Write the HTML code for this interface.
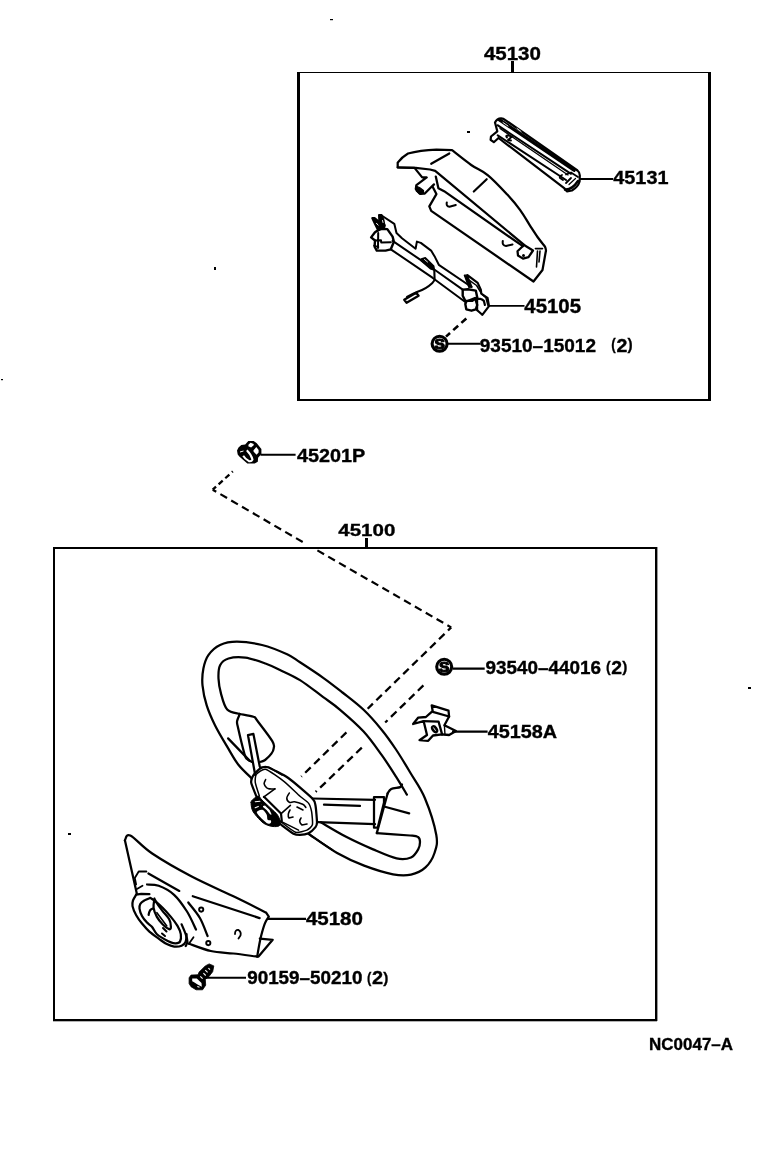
<!DOCTYPE html>
<html><head><meta charset="utf-8">
<style>
html,body{margin:0;padding:0;background:#fff;}
svg{display:block;will-change:transform;}
text{font-family:"Liberation Sans",sans-serif;font-weight:bold;fill:#000;stroke:#000;stroke-width:0.35px;}
</style></head>
<body>
<svg width="776" height="1152" viewBox="0 0 776 1152">
<rect width="776" height="1152" fill="#fff"/>
<rect x="297" y="72" width="414" height="1" fill="#000"/>
<rect x="297" y="72" width="3" height="329" fill="#000"/>
<rect x="708" y="72" width="3" height="329" fill="#000"/>
<rect x="297" y="399" width="414" height="2" fill="#000"/>
<rect x="53" y="547" width="604" height="2" fill="#000"/>
<rect x="53" y="547" width="2" height="474" fill="#000"/>
<rect x="655" y="547" width="2.4" height="474" fill="#000"/>
<rect x="53" y="1019" width="604" height="2.3" fill="#000"/>
<rect x="511" y="61" width="3" height="11" fill="#000"/>
<rect x="365" y="538" width="3" height="9" fill="#000"/>
<g fill="none" stroke="#000" stroke-width="1.8" stroke-linejoin="round" stroke-linecap="round">
<path d="M495 122.5Q497 118.3 501 118.3L503.5 118.8L577.5 170.5Q580 172.5 579.8 176L579.6 181.5Q578 187 572 190.5L567 191.3Q565 190 564.5 188.3L498.5 138L493.8 142.2L490.6 139.8L491 136.5L497.3 131.3L495 122.5Z" stroke-width="2.2"/>
<path d="M499.5 119.8L574 170.2" stroke-width="3.4"/>
<path d="M503 122.5L508 126M517 128.5L521 131.5" stroke="#fff" stroke-width="0.9" fill="none"/>
<path d="M497.5 125.2L571 173.8" stroke-width="2"/>
<path d="M500 128.5L568 175" stroke-width="1.3"/>
<path d="M497.7 135.3L566 180" stroke-width="2"/>
<path d="M566 174.5L571 172.5L578 177M566 183L571 178" stroke-width="1.8"/>
<path d="M507 137.5Q505 135.5 508 135.5L512 136.5L508 140L511 140.5M562 175Q559 176 560 178L563 180" stroke-width="1.8"/>
<path d="M569 184.5L575.5 178.5" stroke-width="1.2"/>
<path d="M565 189.5Q572 190 578 181" stroke-width="2.5"/>
<path d="M397.7 167.5L397.7 162.6Q402 157 408 153.5Q420 150.5 436.4 149.7L452 150.2 C455.2 152.7 465.2 160.8 471.2 165 C477.2 169.2 482 170.4 488 175.3 C494 180.2 501.9 188.8 507.3 194.6 C512.7 200.4 516.4 204.9 520.2 210.1 C524 215.3 527.1 221.1 530 225.6 C532.9 230.1 535 233.5 537.5 237 C540 240.5 543.8 245.1 545 246.7Q546.5 250 545.7 252L542.5 270L533.5 281.5L431.2 210.9L429.3 206.4L436.4 194.1L432.5 186.4L434 184.3L424.8 193.5L419.6 193.5L415.8 189L416.4 185.1L426.7 177.4L422.2 177.4L414.5 167.9Z" stroke-width="2.25"/>
<path d="M397.7 167.3L415.8 167.8L430 169.5L435.2 170.8L524.1 244.9" stroke-width="2.25"/>
<path d="M435.8 176.6L438.4 188.2L444.1 191.2L522.8 246.2" stroke-width="2.25"/>
<path d="M431.2 163.8L449.3 153.5M473.8 191.5L486.7 179.2" stroke-width="2.2"/>
<path d="M446.8 202.4Q446 206.5 449.5 206.8L455.8 205M502.8 241Q502 245.5 506 246L512.5 244.5" stroke-width="2"/>
<path d="M517.5 251.2L524 245L533 250.5L528.5 257.2L523 258.6L518 255.5Z" stroke-width="2.25"/>
<path d="M535.4 248.6L542.5 248.6M537.5 251L536.5 267M540 251L539 262" stroke-width="1.6"/>
<path d="M415.8 186L419.5 187.5L423.5 190.5L423.6 193.5L420.5 194.5L416.3 191Z" fill="#000" stroke="#000" stroke-width="1.2"/>
<circle cx="420.5" cy="190.6" r="0.8" fill="#fff"/>
<circle cx="523.5" cy="255.5" r="1.5" fill="#000" stroke="none"/>
<path d="M381.6 215.5L394.3 223.8L396.5 233.1L402 238.3L415.6 248.7L416.9 241.6L420.8 242.9L431.1 250.6L435 257.1L438.8 264.8L471.5 287" stroke-width="2"/>
<path d="M467.4 275.2L477.7 282.9L480.8 289.6L481.3 293.7L487.5 297.8L489 306.1L482.3 314.8L477.2 310.2" stroke-width="2.2"/>
<path d="M469.4 280.3L476.6 285.5L481.8 294.2L485.9 297.8L488 305.6" stroke-width="1.5"/>
<path d="M464.3 275.2L467.4 275.2L472 287L468.9 287.5Z" fill="#000" stroke="#000" stroke-width="1.2"/>
<path d="M392.6 240.9L422 260.9L435 270L462.7 289.6" stroke-width="2"/>
<path d="M390.8 249.3L432.4 277.7L465.3 302" stroke-width="2"/>
<path d="M372.2 218.1L374.6 218.1L379.4 222.1L384.7 225.2L384.2 227.5L377.5 229L375 224Z" fill="#000" stroke="#000" stroke-width="2" stroke-linejoin="round"/>
<path d="M376.5 223.3L378.5 225.5" stroke="#fff" stroke-width="1"/>
<path d="M379 215.1L381.6 215.1L383.5 220L384.5 226L379.5 226.5Z" fill="#000" stroke="#000" stroke-width="2" stroke-linejoin="round"/>
<path d="M382.5 220.5L383 222.5" stroke="#fff" stroke-width="0.9"/>
<path d="M371.1 237.4L375 232.2L380.3 228.7L387.3 229.1L392.6 236.6L393.9 241.8L390.8 249.3L385.5 250.6L376.8 250.6L374.6 246.6L375 240.5Z" stroke-width="2.4"/>
<path d="M375 240.5L381 240.3L381.2 242.5L390.8 242.3M378.2 233L378 248M381 229L377 231" stroke-width="2"/>
<path d="M374 245.5L378.5 247" stroke-width="1.6"/>
<path d="M421.4 259L425.3 257.7L433.7 266.1L434.3 270L430.4 268.7L421.4 260.9Z" fill="#000" stroke="#000" stroke-width="1.6"/>
<path d="M424.5 259.5L427.5 262" stroke="#fff" stroke-width="0.9"/>
<path d="M434.3 270L434.6 280L432.4 283Q426 289 418.2 291.5Q411 294.5 407 297" stroke-width="2.1"/>
<path d="M404.2 299.8L416.2 292.8L418.6 295.8L406.6 302.8Z" stroke-width="2.3"/>
<path d="M462.7 289.6L468 289.3L475.8 290.6L477.2 297.3L472 300.9L465.3 300.9L462.7 295.8Z" stroke-width="2.4"/>
<path d="M466.3 301.5L475 298L477.2 305L475.8 309.3L471.5 310.7L466.3 309.3L465.3 304Z" stroke-width="2.4"/>
<path d="M477.2 299L480 298.8L482 299.5L483.9 300.9L484.9 305" stroke-width="2.2"/>
<path d="M477.2 297.3L477.2 310.2" stroke-width="2"/>
</g>
<g fill="none" stroke="#000">
<path d="M448 343.8H480.4" stroke-width="2"/>
<path d="M579 179H613" stroke-width="2"/>
<path d="M488.5 305.9H524.5" stroke-width="1.9"/>
<path d="M466.3 318.5L446 336.6" stroke-width="2.6" stroke-dasharray="6.6 4.3" stroke-linecap="butt"/>
<circle cx="439.6" cy="343.8" r="7.5" stroke-width="3.1"/>
</g>
<text x="439.6" y="349.2" font-size="15.5" text-anchor="middle" style="stroke-width:1.2px">S</text>
<g fill="none" stroke="#000" stroke-width="1.8" stroke-linejoin="round" stroke-linecap="round">
<path d="M212.7 489.7L232.8 471.4" stroke-width="2.3" stroke-dasharray="5.5 3.5" stroke-dashoffset="1" stroke-linecap="butt"/>
<path d="M212.7 489.7L303 542.2" stroke-width="2.2" stroke-dasharray="7.7 4.8" stroke-linecap="butt" stroke-dashoffset="3.6"/>
<path d="M317.4 550.4L451.2 627.4" stroke-width="2.2" stroke-dasharray="7.7 4.8" stroke-linecap="butt"/>
<path d="M451.2 627.4L367.7 708.7" stroke-width="2.3" stroke-dasharray="7.7 4.8" stroke-linecap="butt" stroke-dashoffset="3.2"/>
<path d="M346.4 732.4L301.3 776.6" stroke-width="2.3" stroke-dasharray="7.7 4.8" stroke-linecap="butt"/>
<path d="M423.4 685.4L385.2 722.5" stroke-width="2.3" stroke-dasharray="7.7 4.8" stroke-linecap="butt"/>
<path d="M361.8 747.7L315.7 791.9" stroke-width="2.3" stroke-dasharray="7.7 4.8" stroke-linecap="butt"/>
<path d="M251.8 778.4 C249.6 776.2 242.5 769.9 238.6 765 C234.7 760.1 232.4 755.5 228.5 748.9 C224.6 742.3 218.7 732.8 215.1 725.5 C211.5 718.2 208.8 712.1 206.7 705.4 C204.6 698.7 203.1 691.4 202.5 685.3 C201.9 679.1 202.4 673.5 203.4 668.5 C204.4 663.5 205.6 659 208.4 655.1 C211.2 651.2 215.3 647.2 220.1 645 C224.8 642.8 229.9 641.7 236.9 641.7 C243.9 641.7 253.6 642.9 262 645 C270.4 647.1 280.8 651.4 287.1 654.3 C293.4 657.2 294 658.4 300 662.3 C306 666.2 316.1 672.8 323.2 677.8 C330.3 682.8 335.8 687.2 342.5 692.5 C349.2 697.8 357.1 703.6 363.6 709.8 C370.1 716 376.2 723.1 381.6 729.7 C387 736.3 391.2 742.3 396 749.5 C400.8 756.7 405.7 764.9 410.5 773 C415.3 781.1 420.6 787.9 424.9 798.2 C429.2 808.5 434.7 825.9 436.3 835 C437.9 844.1 436.3 847.6 434.5 853 C432.7 858.4 429.4 863.8 425.5 867.4 C421.6 871 416.4 873.5 411 874.6 C405.6 875.8 400.8 875.8 393 874.3 C385.2 872.8 373.4 869.1 364.1 865.6 C354.8 862.1 346.4 858.3 337.1 853 C327.8 847.7 313.3 837 308.5 833.8" stroke-width="2.25"/>
<path d="M239.8 714 C237.7 713.2 230.3 712.9 227.2 709.5 C224.1 706.1 222.4 698.8 221 693.6 C219.6 688.5 218.7 683.3 218.5 678.6 C218.3 673.9 218.4 668.6 220.1 665.2 C221.8 661.9 224.3 659.8 228.5 658.5 C232.7 657.2 239.2 656.8 245.3 657.6 C251.5 658.4 259.6 661.4 265.4 663.5 C271.2 665.6 274.2 667.2 280 670 C285.8 672.8 292.8 675.6 300 680.1 C307.2 684.6 316.5 692.2 323.2 697.1 C329.9 702 333.4 704.1 340.1 709.8 C346.8 715.5 356.7 724 363.6 731.5 C370.5 739 376.2 747.4 381.6 754.9 C387 762.4 391.8 770 396 776.6 C400.2 783.2 405.1 791.6 406.9 794.6" stroke-width="2.25"/>
<path d="M402 784.4 C401.7 784.9 402 786.4 400.2 787.1 C398.4 787.9 393.3 787.8 391.2 788.9 C389.1 790 388.2 792.7 387.6 793.5" stroke-width="2.25"/>
<path d="M387.6 793.5L376.8 833.1" stroke-width="2.25"/>
<path d="M376.8 833.1 C382.3 833.5 403.1 834.9 410 835.5 C416.9 836.1 416.3 835.9 418 837 C419.7 838.1 420 839.9 420 842 C420 844.1 419.7 846.8 418.2 849.4 C416.7 852 414.6 856 411 857.5 C407.4 859 402.9 859.8 396.6 858.4 C390.3 857 381.5 853 373.1 849.4 C364.7 845.8 354.8 841.3 346.1 836.8 C337.4 832.3 325 824.7 320.8 822.3" stroke-width="2.25"/>
<path d="M312.4 798.5L375 799.8M317.8 822.1L375 824.1" stroke-width="2.25"/>
<path d="M324 804.7L360 805.9" stroke-width="2.25"/>
<path d="M374 827.7V797.1H384V802.5L377.7 827.7Z" stroke-width="2.25"/>
<path d="M385.8 807L409.2 813.3" stroke-width="2.25"/>
<path d="M239.8 714 C242.1 714.5 250.5 715.7 253.4 716.7 C256.3 717.8 253.8 716.2 257 720.3 C260.1 724.4 269.5 736.4 272.3 741.1 C275.1 745.8 273.9 746.2 273.7 748.3 C273.5 750.4 272.8 751.8 271.4 753.7 C270 755.7 266.9 758.6 265.1 760 C263.3 761.4 261.4 761.5 260.6 761.8" stroke-width="2.25"/>
<path d="M239.8 714 C239.4 715.2 237.4 718.9 237.1 721.2 C236.8 723.5 236.8 722.2 238 727.6 C239.2 733 242.9 748.5 244.4 753.7 C245.9 759 245.9 757.8 247.1 759.1 C248.3 760.5 250.8 761.3 251.6 761.8" stroke-width="2.25"/>
<path d="M248 735.2L255.2 775M248 735.2L253.4 733.9L259.7 766.3" stroke-width="2.25"/>
<path d="M228.1 738.4L249.8 760.9" stroke-width="2.25"/>
<path d="M280 823.9 C281.4 824.9 291.5 832.6 293.5 833.7 C295.5 834.8 298.5 834.9 300 834.9 C301.5 834.9 306.9 834.1 308.5 833.3 C310.1 832.5 314.6 828.2 315.5 827.1 C316.4 826 317 824.7 317 822.5 C317 820.3 316 807.9 315.5 805.5 C315 803.1 315.1 801.2 312.4 798.5 C309.7 795.8 292.8 781.1 288.3 778 C283.8 774.9 270.5 768.2 267.7 767.2 C264.9 766.2 261.9 767.4 260.5 768.2 C259.1 769 254.1 774 253.2 775.5 C252.3 777 250.9 780.6 251.2 782.7 C251.5 784.8 255.8 794.8 256.3 796.1" stroke-width="2.25"/>
<path d="M281.1 821.9 C282.5 822.9 292.9 831.4 295.5 832.2 C298.1 833 305.2 830.8 306.9 830.1 C308.6 829.4 311.9 826.6 312.4 824.8 C312.9 823 312 813.9 311.6 811.7 C311.2 809.5 309.7 804.6 308.5 803.1 C307.3 801.6 302.4 798.4 300 796.2 C297.6 794.1 287.6 784.3 284.2 781.6 C280.8 778.9 268.4 770 265.6 769.3 C262.8 768.6 257.3 773.1 256.3 774.4 C255.3 775.7 255 780.5 255.3 782.7 C255.6 784.9 259 794.8 259.4 796.1" stroke-width="1.5"/>
<path d="M264 796.8L281 813.5L281.8 821" stroke-width="2.2"/>
<path d="M251.1 802.3 C250.9 804 251.4 807.5 252.1 809.5 C252.8 811.5 253.6 812.5 255.2 814.6 C256.8 816.7 259.9 820.2 261.9 821.9 C263.9 823.6 265.2 824.2 267.1 825 C269 825.8 271 826.3 273 826.5 C275 826.7 277.6 826.7 278.9 826 C280.1 825.3 280.7 824.3 280.5 822.5 C280.3 820.7 279.1 817.3 277.5 815 C275.9 812.7 273.6 811 271 808.5 C268.4 806 264.1 802.1 262 800 C259.9 797.9 259.8 796.2 258.3 796.1 C256.8 796 254.4 798.2 253.2 799.2 C252 800.2 251.3 800.6 251.1 802.3Z" fill="#000" stroke="#000" stroke-width="1"/>
<path d="M258.8 810.5 C259.8 809.9 261.7 809.3 263 810 C264.3 810.7 265.8 813 266.6 814.6 C267.4 816.2 266.9 818.8 267.6 819.8 C268.3 820.8 270.2 819.8 270.7 820.3 C271.2 820.8 271.4 822.5 270.7 822.9 C270 823.3 268.8 824.4 266.6 822.9 C264.4 821.4 258.6 815.7 257.3 813.6 C256 811.5 257.9 811.1 258.8 810.5Z" fill="#fff" stroke="none"/>
<path d="M263 805.9 L265 805.4 L269.6 810 L271.7 814.6 L270.2 814.6 L266.6 810 L263 806.9Z" fill="#fff" stroke="none"/>
<path d="M255.2 801.8L259.9 801.2M255.2 807.7L258.3 806.4" stroke="#fff" stroke-width="1.1" fill="none"/>
<circle cx="261.4" cy="804.3" r="0.7" fill="#fff"/>
<path d="M265.6 779.6 C265.4 780.3 263.9 782.3 264.1 783.7 C264.3 785.1 265.7 786.9 266.6 787.8 C267.5 788.7 268.3 788.7 269.7 788.9 C271.1 789.1 274 788.9 274.9 788.9" stroke-width="1.6"/>
<path d="M274.9 788.9L263.6 797.1" stroke-width="1.6"/>
<path d="M289.3 793 C288.9 793.9 286.8 796.6 286.8 798.1 C286.8 799.6 288 801.7 289.3 802.3 C290.6 802.9 292.3 801.5 294.5 801.8 C296.7 802.1 300.8 803.4 302.7 804.3 C304.6 805.2 305.3 806.9 305.8 807.4" stroke-width="1.6"/>
<path d="M290.4 805.4L281.1 813.6" stroke-width="1.6"/>
<path d="M290 810Q287 815 289 818L293 817M301 818Q298 822 302 825L307 824M297 807L303 810" stroke-width="1.6"/>
<path d="M280 820.8L298.6 830.1" stroke-width="1.5"/>
<path d="M308.5 834.1L332.5 850" stroke-width="1.8"/>
<path d="M259.7 767.2L268.7 767.2L282.2 775" stroke-width="1.5"/>
<path d="M431.7 705.4L448.5 710.7L449.1 716.5L432.8 711.8Z" stroke-width="2.3"/>
<path d="M431.7 711.8L425.9 717L418.3 717.6L413.1 724L423.6 721.1L427 735L419.5 740.2L428.2 740.8L433 735.5L442.1 734.4L449.1 735L456 731L444.4 725.2L449.1 716.5" stroke-width="2.3"/>
<path d="M423.6 721.1L438.6 721.7L442.1 734.4" stroke-width="2.3"/>
<ellipse cx="434.6" cy="729.2" rx="3.6" ry="2.2" transform="rotate(55 434.6 729.2)" fill="#000"/>
<path d="M433.6 727.8L435.4 730.5" stroke="#fff" stroke-width="0.9"/>
<path d="M444.4 725.2L445 735" stroke-width="1.4"/>
<path d="M124.9 840.3 C125.8 839.5 125.8 833.3 130.3 835.5 C134.9 837.7 142 846.7 152.2 853.5 C162.4 860.3 177.8 869.2 191.7 876.5 C205.6 883.8 223.1 891.3 235.5 897.3 C247.9 903.3 261 910 266.1 912.6L268.8 916.6 C268.2 917.7 266.3 919.9 265 923.1 C263.7 926.3 262.2 931.7 261.1 936 C260 940.3 259.1 945.5 258.5 948.9 C257.9 952.3 257.4 955.3 257.2 956.6" stroke-width="2.25"/>
<path d="M124.9 840.3L136.8 893.5" stroke-width="2.25"/>
<path d="M257.2 956.6 C253.2 956.1 241 954.4 233.3 953.5 C225.6 952.6 218.2 952.6 210.8 951 C203.4 949.4 192.6 944.9 188.9 943.7" stroke-width="2.25"/>
<path d="M259.8 938.6L272.7 939.8L258.5 956.6" stroke-width="2.25"/>
<path d="M148.4 873.5L179.3 890.9" stroke-width="2.25"/>
<path d="M147.1 884.5 C149 884.7 154.2 884.1 158.7 885.8 C163.2 887.5 169.4 890.5 174.1 894.8 C178.8 899.1 183.3 905.7 187 911.5 C190.7 917.3 194.5 926.6 196 929.6" stroke-width="2.25"/>
<path d="M192.8 896.2L259.6 918.1" stroke-width="2.25"/>
<path d="M188.3 902.5 C190.2 905.1 196.7 912.4 199.9 918 C203.1 923.6 206.3 933 207.6 936" stroke-width="2.25"/>
<circle cx="201.2" cy="909.6" r="2.1" fill="none" stroke="#000" stroke-width="1.9"/><circle cx="208.3" cy="943.1" r="2.1" fill="none" stroke="#000" stroke-width="1.9"/>
<path d="M136.2 894.6 C135.7 895.6 133.6 898.5 133 900.4 C132.4 902.3 132 903.6 132.5 906.1 C133 908.6 134.6 912.3 136.2 915.2 C137.8 918.1 139.8 920.8 142 923.5 C144.2 926.2 146.5 929.1 149.4 931.7 C152.3 934.3 156.4 937 159.3 939.1 C162.2 941.2 164.3 942.9 166.8 944.1 C169.3 945.4 171.7 946.3 174.2 946.6 C176.7 946.9 179.7 946.5 181.6 945.7 C183.5 944.9 184.9 943.5 185.7 941.6 C186.5 939.7 186.4 935.4 186.6 934.2" stroke-width="2.25"/>
<path d="M136.2 894.6L141.2 893.8L149.4 894.2" stroke-width="2.25"/>
<path d="M150.3 897.9 C149.3 898.3 146.2 899.4 144.5 900.4 C142.8 901.4 141.2 902.3 140.4 903.7 C139.6 905.1 139.2 906.6 139.5 908.6 C139.8 910.6 140.8 913.7 142 916 C143.2 918.3 145.3 920.8 147 922.6 C148.7 924.4 150.2 924.9 151.9 926.8 C153.6 928.7 154.8 932.2 156.9 934.2 C159 936.2 162 937.7 164.3 939.1 C166.6 940.5 169 941.7 170.9 942.4 C172.8 943.1 174.3 943.4 175.8 943.3 C177.3 943.2 179.2 943.1 180 941.6 C180.8 940.1 181.2 936.8 180.8 934.2 C180.4 931.6 179.2 928.8 177.5 925.9 C175.8 923 173.4 919.9 170.9 916.9 C168.4 913.9 165.2 910.4 162.6 907.8 C160 905.2 157.2 902.9 155.2 901.2 C153.1 899.6 151.1 898.5 150.3 897.9" stroke-width="2.25"/>
<path d="M154.4 898.7 C154.3 900.2 153.2 904.8 153.6 907.8 C154 910.8 155.4 914.1 156.9 916.9 C158.4 919.6 160.6 922.2 162.6 924.3 C164.6 926.3 167.8 928.8 169.2 929.2 C170.6 929.6 170.9 928.4 170.9 926.8 C170.9 925.1 170.6 921.9 169.2 919.3 C167.8 916.7 164.5 913.6 162.6 911.1 C160.7 908.6 159.1 906.6 157.7 904.5 C156.3 902.4 154.9 899.7 154.4 898.7" stroke-width="2.25"/>
<path d="M156.9 912.7L166.8 925.9" stroke-width="1.6"/>
<path d="M152.7 908.6Q149.5 909 148.6 915" stroke-width="2.2"/>
<path d="M181.6 924.3 C182.3 925.9 184.7 931.3 185.7 934.2 C186.7 937.1 187.4 939.6 187.4 941.6 C187.4 943.6 186 945.3 185.7 946" stroke-width="2.25"/>
<path d="M146.4 871.5L138.7 871.5L134.8 878L136.1 884.4M136.1 889.6L142.5 885.7M188.9 943.7L193.5 937.3" stroke-width="1.8"/>
<path d="M235 934Q235 929.5 238.5 930Q241.5 932 240.5 935.5L238.5 938.5" stroke-width="1.8"/>
<path d="M163 928L166.5 931.5M162 933.5L165 936" stroke-width="2"/>
</g>
<g fill="none" stroke="#000">
<path d="M260.5 454.8H295.6" stroke-width="2.1"/>
<path d="M452.9 668.7H484.7" stroke-width="2.3"/>
<path d="M452 731.6H487.6" stroke-width="2.2"/>
<path d="M267 918.9H306" stroke-width="2.1"/>
<path d="M205.8 977.8H246" stroke-width="2"/>
<circle cx="444.2" cy="666.8" r="7.5" stroke-width="3.1"/>
</g>
<text x="444.2" y="672.2" font-size="15.5" text-anchor="middle" style="stroke-width:1.2px">S</text>
<path d="M248.3 441.1L253.7 441.1L256.8 443.2L261.4 448.9L261.4 454.1L258.1 457.7L257.8 461.8L254.7 463.6L247.3 463.6L239.3 456.6L237.7 454.6L237 450.5L238.5 447.4L241.3 445.1L245.2 444.5Z" fill="#000"/>
<path d="M248.6 444.5L250.6 442.7L253.7 444L253.7 445.3L251.1 447.6L248.3 446.3Z M253.5 450.2L256.3 447.1L258.6 449.9L258.6 452.5L256.5 454.8L253.5 451.5Z" fill="#fff"/>
<path d="M246.8 450.3Q251.5 455 252.5 459.5Q251.5 461.8 249 461.2Q245 459 243.2 455.8" fill="none" stroke="#fff" stroke-width="2"/>
<path d="M240 452L243.5 451" fill="none" stroke="#fff" stroke-width="1"/>
<path d="M209.2 963.9L213.8 965.9L212.7 971.7L208.8 976.7L205.3 979.4L205.7 985.2L202.6 989.8L196.1 989.8L191 986.7L189.1 983.6L189.1 977.8L191 975.1L198 974.8L199.1 972.1L205.3 965.9Z" fill="#000" stroke="#000" stroke-width="0.8" stroke-linejoin="round"/>
<path d="M192.2 978.6L196.8 978.6L201.5 982.9L201.8 986.7L197.6 984.4L193.7 982.1L192.2 981.3Z" fill="#fff"/>
<path d="M200.3 976.3L202.6 978.6M203.4 973.2L205.7 975.5M205.3 970.1L207.6 972.4M208.4 968.2L210 969.7M197.3 986.5L199.5 987.2" stroke="#fff" stroke-width="1.1" fill="none"/>
<text transform="matrix(0.9834 0 0 1.0038 483.9 59.65)" x="0" y="0" font-size="18.5" textLength="58" lengthAdjust="spacingAndGlyphs">45130</text>
<text transform="matrix(0.9848 0 0 0.9887 613.3 184.45)" x="0" y="0" font-size="18.5" textLength="56" lengthAdjust="spacingAndGlyphs">45131</text>
<text transform="matrix(0.9791 0 0 1.0566 524.3 312.94)" x="0" y="0" font-size="18.5" textLength="58" lengthAdjust="spacingAndGlyphs">45105</text>
<text transform="matrix(1.0017 0 0 0.9846 479.8 351.75)" x="0" y="0" font-size="18" textLength="116" lengthAdjust="spacingAndGlyphs">93510–15012</text>
<text transform="matrix(0.7455 0 0 0.8696 611.34 350.12)" x="0" y="0" font-size="18" textLength="6" lengthAdjust="spacingAndGlyphs">(</text>
<text transform="matrix(1.0889 0 0 0.9692 616.46 351.76)" x="0" y="0" font-size="18" textLength="10" lengthAdjust="spacingAndGlyphs">2</text>
<text transform="matrix(0.8545 0 0 0.8696 627.51 350.12)" x="0" y="0" font-size="18" textLength="6" lengthAdjust="spacingAndGlyphs">)</text>
<text transform="matrix(0.9883 0 0 1.0308 297.0 461.84)" x="0" y="0" font-size="18" textLength="69" lengthAdjust="spacingAndGlyphs">45201P</text>
<text transform="matrix(0.9834 0 0 0.9462 338.3 536.36)" x="0" y="0" font-size="18" textLength="58" lengthAdjust="spacingAndGlyphs">45100</text>
<text transform="matrix(0.9948 0 0 0.9923 485.5 673.75)" x="0" y="0" font-size="18" textLength="116" lengthAdjust="spacingAndGlyphs">93540–44016</text>
<text transform="matrix(0.7818 0 0 0.8232 606.01 672.2099999999999)" x="0" y="0" font-size="18" textLength="6" lengthAdjust="spacingAndGlyphs">(</text>
<text transform="matrix(1.0778 0 0 0.9923 611.36 673.75)" x="0" y="0" font-size="18" textLength="10" lengthAdjust="spacingAndGlyphs">2</text>
<text transform="matrix(0.8545 0 0 0.8232 622.21 672.2099999999999)" x="0" y="0" font-size="18" textLength="6" lengthAdjust="spacingAndGlyphs">)</text>
<text transform="matrix(0.9907 0 0 1.0308 487.7 737.84)" x="0" y="0" font-size="18" textLength="70" lengthAdjust="spacingAndGlyphs">45158A</text>
<text transform="matrix(1.0009 0 0 1.04 305.9 924.54)" x="0" y="0" font-size="17.5" textLength="57" lengthAdjust="spacingAndGlyphs">45180</text>
<text transform="matrix(0.993 0 0 1.024 247.2 983.74)" x="0" y="0" font-size="17.5" textLength="116" lengthAdjust="spacingAndGlyphs">90159–50210</text>
<text transform="matrix(0.7273 0 0 0.8788 367.05 982.5999999999999)" x="0" y="0" font-size="17.5" textLength="6" lengthAdjust="spacingAndGlyphs">(</text>
<text transform="matrix(1.1111 0 0 1.024 372.04 983.74)" x="0" y="0" font-size="17.5" textLength="10" lengthAdjust="spacingAndGlyphs">2</text>
<text transform="matrix(0.8545 0 0 0.8788 383.21 982.5999999999999)" x="0" y="0" font-size="17.5" textLength="6" lengthAdjust="spacingAndGlyphs">)</text>
<text transform="matrix(1.0006 0 0 0.9959 649.0 1050.35)" x="0" y="0" font-size="17" textLength="84" lengthAdjust="spacingAndGlyphs">NC0047–A</text>
<rect x="330" y="19" width="3" height="1.2" fill="#000"/>
<rect x="1" y="379" width="2" height="1.2" fill="#000"/>
<rect x="214" y="267" width="2" height="3" fill="#000"/>
<rect x="748" y="687" width="3" height="2" fill="#000"/>
<rect x="68" y="833" width="3" height="2" fill="#000"/>
<rect x="467" y="131" width="3" height="2" fill="#000"/>
</svg>
</body></html>
